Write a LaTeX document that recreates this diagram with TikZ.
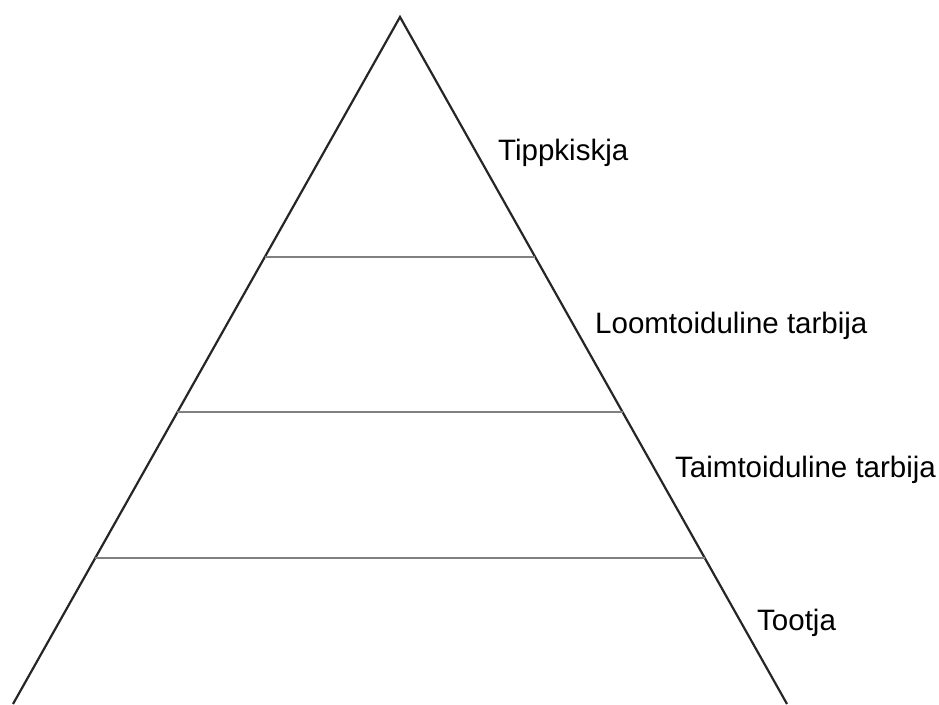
\documentclass[tikz,border=0pt]{standalone}
\usepackage{fontspec}
\setmainfont{Liberation Sans}
\usetikzlibrary{calc}
\definecolor{lgray}{rgb}{0.5, 0.5, 0.5}

\begin{document}
\begin{tikzpicture}[x=1pt, y=-1pt,
    edge/.style={line width=2.2pt, black!85},
    level/.style={line width=2pt, lgray},
    label/.style={anchor=base west, inner sep=0pt, font=\fontsize{29.5}{34}\selectfont}]
    \useasboundingbox (0, 0) rectangle (939, 704);

    \coordinate (top) at (400, 17);
    \coordinate (bl) at (13, 704);
    \coordinate (br) at (787, 704);

    \draw [edge, line join=miter] (bl) -- (top) -- (br);

    \draw [level] ($(top)!0.349!(bl)$) -- ($(top)!0.349!(br)$);
    \draw [level] ($(top)!0.575!(bl)$) -- ($(top)!0.575!(br)$);
    \draw [level] ($(top)!0.7875!(bl)$) -- ($(top)!0.7875!(br)$);

    \node [label] (tipp) at (498, 160) {Tippkiskja};
    \node [label] (loom) at (595, 333) {Loomtoiduline tarbija};
    \node [label] (taim) at (675, 477) {Taimtoiduline tarbija};
    \node [label] (toot) at (757, 630) {Tootja};
  \end{tikzpicture}
\end{document}
